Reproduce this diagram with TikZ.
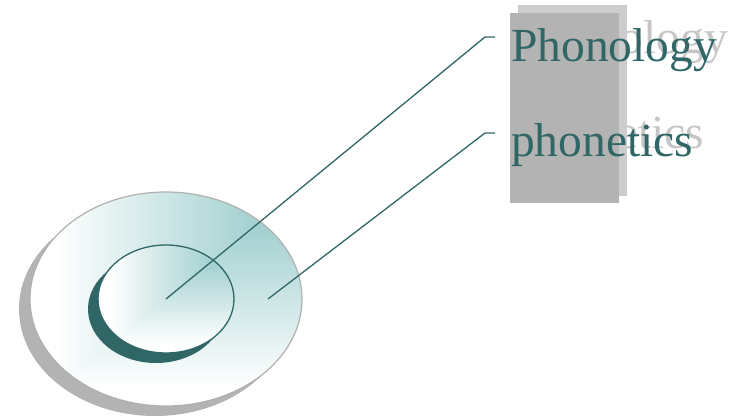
\documentclass[tikz,border=0pt]{standalone}
\usepackage{fontspec}
\setmainfont{Liberation Serif}
\usetikzlibrary{positioning}
\definecolor{tealdark}{HTML}{306666}
\definecolor{shadowgray}{HTML}{B3B3B3}
\definecolor{rimgray}{HTML}{B0B0B0}
\definecolor{ghostgray}{HTML}{C6C6C6}
\definecolor{panelgray}{HTML}{CCCCCC}
% Glow from the upper right corner, fading to white
\pgfdeclarefunctionalshading{cornerglow}{\pgfpoint{-50bp}{-50bp}}{\pgfpoint{50bp}{50bp}}{}{
  25 exch sub 50 div
  exch 25 exch sub 50 div
  2 copy lt {exch} if pop
  1.1 mul dup 1 gt {pop 1} if dup 0 lt {pop 0} if
  dup dup
  0.224 mul 0.776 add
  3 1 roll
  0.224 mul 0.776 add
  3 1 roll
  0.439 mul 0.561 add
  3 1 roll
}
\tikzset{
  leader/.style={tealdark, line width=1.3pt},
  term/.style={font=\fontsize{47.5}{50}\selectfont, text=tealdark, inner sep=0pt, anchor=base west},
  ghost/.style={term, text=ghostgray}
}
\begin{document}
\begin{tikzpicture}[x=1pt, y=-1pt]
		\useasboundingbox (0,0) rectangle (735,419);
		% Shadow texts behind the panels
		\node[ghost] (phonologyghost) at (522,54) {Phonology};
		\node[ghost] (phoneticsghost) at (522,149) {phonetics};
		% Panels
		\fill[panelgray] (518,5) rectangle (627,196);
		\fill[shadowgray] (510,13) rectangle (619,203);
		% Outer disc with its shadow
		\fill[shadowgray] (155,309) ellipse [x radius=136pt, y radius=107pt];
		\shade[shading=cornerglow, draw=rimgray, line width=1.2pt]
			(166,299) ellipse [x radius=136pt, y radius=107pt];
		% Inner disc with its dark rim
		\fill[tealdark] (156,309) ellipse [x radius=68pt, y radius=54pt];
		\shade[shading=cornerglow, draw=tealdark, line width=1.3pt]
			(166,299) ellipse [x radius=68pt, y radius=54pt];
		% Anchors of the leaders
		\coordinate (core) at (166,299);
		\coordinate (ring) at (268,299);
		\coordinate (kneeA) at (485,37);
		\coordinate (kneeB) at (485,133);
		\coordinate (tipA) at (495,37);
		\coordinate (tipB) at (495,133);
		% Labels
		\node[term] (phonology) at (511,62) {Phonology};
		\node[term] (phonetics) at (511,157) {phonetics};
		% Leaders
		\draw[leader] (core) -- (kneeA) -- (tipA);
		\draw[leader] (ring) -- (kneeB) -- (tipB);
	\end{tikzpicture}
\end{document}
